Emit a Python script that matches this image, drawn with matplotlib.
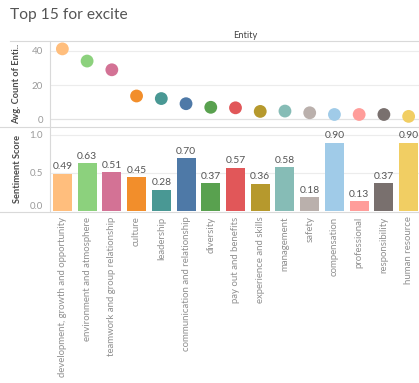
import matplotlib.pyplot as plt

plt.rcParams['font.family'] = ['Lato', 'DejaVu Sans']

entities = ["development, growth and opportunity", "environment and atmosphere",
            "teamwork and group relationship", "culture", "leadership",
            "communication and relationship", "diversity", "pay out and benefits",
            "experience and skills", "management", "safety", "compensation",
            "professional", "responsibility", "human resource"]
avg_count = [41.2, 34.1, 29.0, 13.7, 12.2, 9.2, 7.1, 6.8, 4.7, 4.9, 3.9, 2.9, 2.9, 2.9, 1.8]
sentiment = [0.49, 0.63, 0.51, 0.45, 0.28, 0.70, 0.37, 0.57, 0.36, 0.58, 0.18, 0.90, 0.13, 0.37, 0.90]
colors = ["#FFBE7D", "#8CD17D", "#D37295", "#F28E2B", "#499894", "#4E79A7", "#59A14F",
          "#E15759", "#B6992D", "#86BCB6", "#BAB0AC", "#A0CBE8", "#FF9D9A", "#79706E", "#F1CE63"]

W, H = 419, 383
fig = plt.figure(figsize=(W/100, H/100), dpi=100)

def box(l, t, r, b):
    return [l/W, 1-b/H, (r-l)/W, (b-t)/H]

GRID = "#ececec"
LINE = "#d9d9d9"
TICK = "#9a9a9a"

x = list(range(len(entities)))

# top pane: average count as dots
ax1 = fig.add_axes(box(50, 41, 421, 127))
ax1.scatter(x, avg_count, s=85, c=colors, zorder=3, linewidths=0)
ax1.set_xlim(-0.5, 14.5)
ax1.set_ylim(-4.4, 45.8)
ax1.set_yticks([0, 20, 40])
ax1.set_xticks([])
for v in [20, 40]:
    ax1.axhline(v, color=GRID, lw=0.8, zorder=1)
ax1.axhline(0, color="#e2e2e2", lw=0.9, zorder=1)

# bottom pane: sentiment score bars
ax2 = fig.add_axes(box(50, 127, 421, 211))
ax2.bar(x, sentiment, width=0.77, color=colors, zorder=3)
for xi, v in zip(x, sentiment):
    ax2.text(xi, v + 0.03, f"{v:.2f}", ha="center", va="bottom",
             fontsize=7.4, color="#555555", zorder=4)
ax2.set_xlim(-0.5, 14.5)
ax2.set_ylim(0, 1.105)
ax2.set_yticks([0.0, 0.5, 1.0])
ax2.set_yticklabels(["0.0", "0.5", "1.0"])
ax2.set_xticks(x)
ax2.set_xticklabels(entities, rotation=90, fontsize=6.9, color="#8f8f8f")
ax2.tick_params(axis="x", length=0, pad=4)
for v in [0.5, 1.0]:
    ax2.axhline(v, color=GRID, lw=0.8, zorder=1)

for ax in (ax1, ax2):
    for side in ("top", "right", "bottom"):
        ax.spines[side].set_visible(False)
    ax.spines["left"].set_color(LINE)
    ax.spines["left"].set_linewidth(0.8)
    ax.tick_params(axis="y", length=0, pad=5, labelsize=7, labelcolor=TICK)

# keep the lowest score label inside the pane
ax2.get_yticklabels()[0].set_va("bottom")

# pane separators
fig.add_artist(plt.Line2D([10/W, 1], [1-41/H, 1-41/H], color=LINE, lw=0.8))
fig.add_artist(plt.Line2D([0, 1], [1-127/H, 1-127/H], color=LINE, lw=0.8))
fig.add_artist(plt.Line2D([0, 1], [1-211.5/H, 1-211.5/H], color=LINE, lw=0.8))

fig.text(10/W, 1-15/H, "Top 15 for excite", fontsize=11.2, color="#555555",
         ha="left", va="center")
fig.text(245/W, 1-36/H, "Entity", fontsize=6.7, color="#444444", ha="center", va="center")
fig.text(17/W, 1-84/H, "Avg. Count of Enti..", rotation=90, fontsize=6.7,
         fontweight="bold", color="#4a4a4a", ha="center", va="center")
fig.text(17/W, 1-169/H, "Sentiment Score", rotation=90, fontsize=6.7,
         fontweight="bold", color="#4a4a4a", ha="center", va="center")

fig.savefig("out.png", dpi=100)
